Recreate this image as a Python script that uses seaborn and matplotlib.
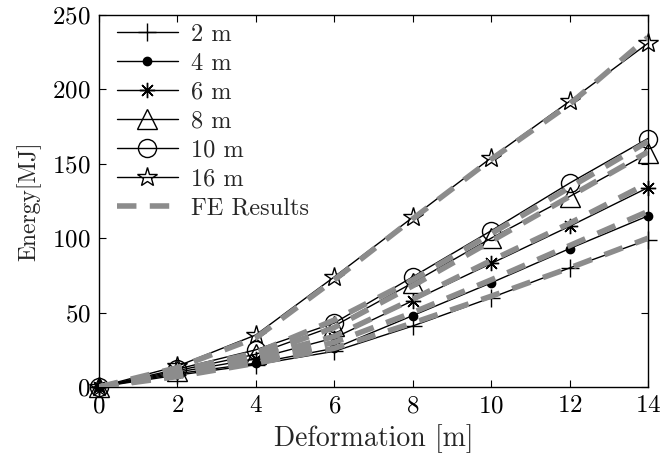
import matplotlib
matplotlib.use("Agg")
import matplotlib.pyplot as plt
import seaborn as sns
import pandas as pd

# ---- data ----
deformation = [0, 2, 4, 6, 8, 10, 12, 14]
series_labels = ["2 m", "4 m", "6 m", "8 m", "10 m", "16 m"]
energy_2m = [0, 8, 15, 24, 41, 60, 80, 99]
energy_4m = [0, 9, 16, 26, 48, 70, 93, 115]
energy_6m = [0, 10, 19, 33, 58, 83, 108, 134]
energy_8m = [0, 11, 22, 41, 70, 100, 128, 157]
energy_10m = [0, 12, 25, 43, 74, 105, 137, 167]
energy_16m = [0, 14, 35, 74, 114, 154, 192, 231]

fe_2m = [0, 7, 16, 26, 43, 61, 80, 100]
fe_4m = [0, 8, 18, 30, 50, 72, 95, 118]
fe_6m = [0, 9, 20, 34, 59, 85, 110, 137]
fe_8m = [0, 10, 21, 40, 68, 98, 128, 158]
fe_10m = [0, 11, 23, 45, 72, 103, 134, 165]
fe_16m = [0, 13, 33, 72, 113, 153, 190, 235]
fe_label = "FE Results"

x_ticks = [0, 2, 4, 6, 8, 10, 12, 14]
y_ticks = [0, 50, 100, 150, 200, 250]

sns.set_style("ticks")
plt.rcParams.update({
    "font.family": "serif",
    "font.serif": ["cmr10", "DejaVu Serif"],
    "mathtext.fontset": "cm",
    "axes.formatter.use_mathtext": True,
    "font.size": 14,
})

fig = plt.figure(figsize=(6.6, 4.54), dpi=100)
ax = fig.add_axes([99 / 660, 1 - 387 / 454, (648 - 99) / 660, (387 - 15) / 454])

analytic = [energy_2m, energy_4m, energy_6m, energy_8m, energy_10m, energy_16m]
fe_all = [fe_2m, fe_4m, fe_6m, fe_8m, fe_10m, fe_16m]
markers = ["+", "o", (8, 2, 0), "^", "o", "*"]
msizes = [13, 6, 11, 14, 13, 15]
mfaces = ["none", "black", "none", "none", "none", "none"]

for lab, vals, mk, ms, mf in zip(series_labels, analytic, markers, msizes, mfaces):
    df = pd.DataFrame({"x": deformation, "y": vals})
    sns.lineplot(data=df, x="x", y="y", ax=ax, color="black", linewidth=1.0,
                 marker=mk, markersize=ms, markerfacecolor=mf,
                 markeredgecolor="black", markeredgewidth=1.0, label=lab,
                 zorder=3, clip_on=False)

for i, vals in enumerate(fe_all):
    df = pd.DataFrame({"x": deformation, "y": vals})
    sns.lineplot(data=df, x="x", y="y", ax=ax, color="#8c8c8c", linewidth=4.0,
                 dashes=False, linestyle=(0, (3.5, 2.4)),
                 label=fe_label if i == 0 else None, zorder=4)

ax.set_xlim(0, 14)
ax.set_ylim(0, 250)
ax.set_xticks(x_ticks)
ax.set_yticks(y_ticks)
ax.set_xlabel("Deformation [m]", fontsize=20, labelpad=5)
ax.set_ylabel("Energy[MJ]", fontsize=17, labelpad=8)
ax.tick_params(direction="in", top=True, right=True, length=5, width=0.8,
               labelsize=18, colors="black")
ax.tick_params(axis="x", pad=6)
ax.tick_params(axis="y", pad=6)
for s in ax.spines.values():
    s.set_linewidth(1.0)
    s.set_color("black")
    s.set_visible(True)

leg = ax.legend(loc="upper left", bbox_to_anchor=(0.0173, 1.0), frameon=False,
                fontsize=17.5, handlelength=2.5, labelspacing=0.28,
                borderaxespad=0.0, borderpad=0.35, handletextpad=0.55)

fig.savefig("out.png", dpi=100)
